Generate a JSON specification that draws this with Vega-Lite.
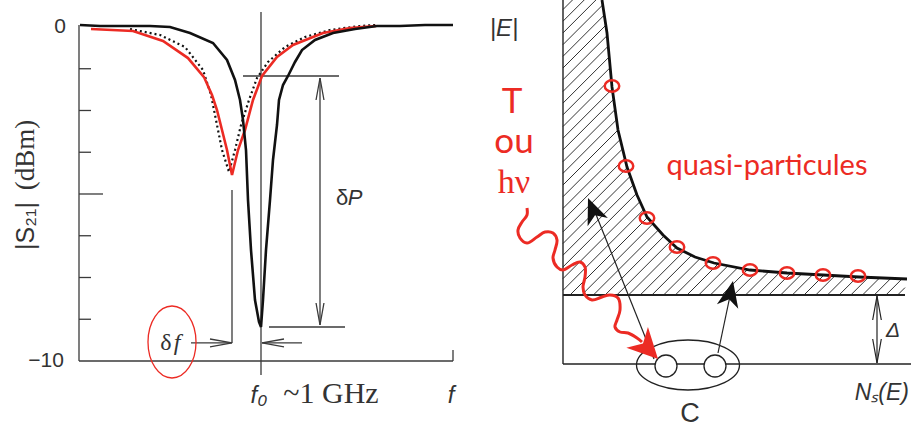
{
  "$schema": "https://vega.github.io/schema/vega-lite/v6.json",
  "padding": 0,
  "spacing": 0,
  "bounds": "flush",
  "background": "white",
  "config": {"view": {"stroke": null}},
  "resolve": {"scale": {"x": "independent", "y": "independent"}},
  "datasets": {
    "black": [
      {"f": 0.819, "dB": 0.06}, {"f": 0.839, "dB": 0.03}, {"f": 0.889, "dB": 0.03}, {"f": 0.909, "dB": 0},
      {"f": 0.929, "dB": -0.18}, {"f": 0.952, "dB": -0.479}, {"f": 0.966, "dB": -0.988}, {"f": 0.974, "dB": -1.587},
      {"f": 0.979, "dB": -2.186}, {"f": 0.982, "dB": -2.784}, {"f": 0.985, "dB": -3.683}, {"f": 0.987, "dB": -5.18},
      {"f": 0.99, "dB": -6.677}, {"f": 0.994, "dB": -8.174}, {"f": 0.998, "dB": -8.832}, {"f": 1.0, "dB": -8.982},
      {"f": 1.002, "dB": -8.174}, {"f": 1.005, "dB": -6.677}, {"f": 1.009, "dB": -5.18}, {"f": 1.012, "dB": -3.982},
      {"f": 1.016, "dB": -2.934}, {"f": 1.018, "dB": -2.186}, {"f": 1.022, "dB": -1.737}, {"f": 1.027, "dB": -1.467},
      {"f": 1.034, "dB": -1.048}, {"f": 1.041, "dB": -0.689}, {"f": 1.054, "dB": -0.389}, {"f": 1.072, "dB": -0.18},
      {"f": 1.094, "dB": -0.06}, {"f": 1.116, "dB": 0.03}, {"f": 1.139, "dB": 0.03}, {"f": 1.164, "dB": 0.06},
      {"f": 1.192, "dB": 0.06}
    ],
    "red": [
      {"f": 0.83, "dB": -0.06}, {"f": 0.872, "dB": -0.12}, {"f": 0.902, "dB": -0.42}, {"f": 0.927, "dB": -0.93},
      {"f": 0.943, "dB": -1.5}, {"f": 0.951, "dB": -2.036}, {"f": 0.956, "dB": -2.485}, {"f": 0.961, "dB": -3.084},
      {"f": 0.966, "dB": -3.683}, {"f": 0.971, "dB": -4.431}, {"f": 0.977, "dB": -3.683}, {"f": 0.984, "dB": -3.084},
      {"f": 0.992, "dB": -2.186}, {"f": 1.001, "dB": -1.467}, {"f": 1.016, "dB": -0.898}, {"f": 1.032, "dB": -0.539},
      {"f": 1.062, "dB": -0.18}, {"f": 1.089, "dB": -0.03}, {"f": 1.115, "dB": 0.03}
    ],
    "dots": [
      {"f": 0.869, "dB": -0.06}, {"f": 0.899, "dB": -0.24}, {"f": 0.924, "dB": -0.599}, {"f": 0.942, "dB": -1.287},
      {"f": 0.95, "dB": -2.036}, {"f": 0.955, "dB": -2.784}, {"f": 0.961, "dB": -3.683}, {"f": 0.968, "dB": -4.341},
      {"f": 0.974, "dB": -3.683}, {"f": 0.98, "dB": -2.934}, {"f": 0.988, "dB": -2.186}, {"f": 0.996, "dB": -1.527},
      {"f": 1.007, "dB": -1.048}, {"f": 1.024, "dB": -0.599}, {"f": 1.044, "dB": -0.299}, {"f": 1.069, "dB": -0.09},
      {"f": 1.099, "dB": 0.03}, {"f": 1.115, "dB": 0.06}
    ],
    "segL": [
      {"f": 0.818, "dB": 0.06, "f2": 0.818, "dB2": -10},
      {"f": 0.818, "dB": -10, "f2": 1.192, "dB2": -10},
      {"f": 1.192, "dB": -10, "f2": 1.192, "dB2": -9.671},
      {"f": 1.0, "dB": 0.449, "f2": 1.0, "dB2": -10.419},
      {"f": 0.818, "dB": -1.25, "f2": 0.83, "dB2": -1.25},
      {"f": 0.818, "dB": -2.5, "f2": 0.83, "dB2": -2.5},
      {"f": 0.818, "dB": -3.75, "f2": 0.83, "dB2": -3.75},
      {"f": 0.818, "dB": -5, "f2": 0.842, "dB2": -5},
      {"f": 0.818, "dB": -6.25, "f2": 0.83, "dB2": -6.25},
      {"f": 0.818, "dB": -7.5, "f2": 0.83, "dB2": -7.5},
      {"f": 0.818, "dB": -8.75, "f2": 0.83, "dB2": -8.75},
      {"f": 0.982, "dB": -1.467, "f2": 1.078, "dB2": -1.467},
      {"f": 1.059, "dB": -1.527, "f2": 1.059, "dB2": -8.922},
      {"f": 1.008, "dB": -8.982, "f2": 1.084, "dB2": -8.982},
      {"f": 0.971, "dB": -4.88, "f2": 0.971, "dB2": -9.46},
      {"f": 0.93, "dB": -9.46, "f2": 0.971, "dB2": -9.46},
      {"f": 1.001, "dB": -9.46, "f2": 1.041, "dB2": -9.46}
    ],
    "chevL": [
      {"f": 1.059, "dB": -1.527, "a": 0},
      {"f": 1.059, "dB": -8.922, "a": 180},
      {"f": 0.971, "dB": -9.46, "a": 90},
      {"f": 1.001, "dB": -9.46, "a": 270}
    ],
    "hatch": [
      {"N": 0, "E": 35.45, "N2": 0.95, "E2": 36.4}, {"N": 0, "E": 34.28, "N2": 2.12, "E2": 36.4},
      {"N": 0, "E": 33.11, "N2": 3.29, "E2": 36.4}, {"N": 0, "E": 31.94, "N2": 4.46, "E2": 36.4},
      {"N": 0, "E": 30.77, "N2": 5.63, "E2": 36.4}, {"N": 0, "E": 29.6, "N2": 6.8, "E2": 36.4},
      {"N": 0, "E": 28.43, "N2": 7.97, "E2": 36.4}, {"N": 0, "E": 27.26, "N2": 9.14, "E2": 36.4},
      {"N": 0, "E": 26.09, "N2": 10.31, "E2": 36.4}, {"N": 0, "E": 24.92, "N2": 11.48, "E2": 36.4},
      {"N": 0, "E": 23.75, "N2": 12.65, "E2": 36.4}, {"N": 0, "E": 22.58, "N2": 13.82, "E2": 36.4},
      {"N": 0, "E": 21.41, "N2": 14.99, "E2": 36.4}, {"N": 0, "E": 20.24, "N2": 16.16, "E2": 36.4},
      {"N": 0, "E": 19.07, "N2": 17.33, "E2": 36.4}, {"N": 0, "E": 17.9, "N2": 18.5, "E2": 36.4},
      {"N": 0, "E": 16.73, "N2": 19.67, "E2": 36.4}, {"N": 0, "E": 15.56, "N2": 20.84, "E2": 36.4},
      {"N": 0, "E": 14.39, "N2": 22.01, "E2": 36.4}, {"N": 0, "E": 13.22, "N2": 23.18, "E2": 36.4},
      {"N": 0, "E": 12.05, "N2": 24.35, "E2": 36.4}, {"N": 0, "E": 10.88, "N2": 25.52, "E2": 36.4},
      {"N": 0, "E": 9.71, "N2": 26.69, "E2": 36.4}, {"N": 0, "E": 8.54, "N2": 27.86, "E2": 36.4},
      {"N": 0, "E": 7.37, "N2": 29.03, "E2": 36.4}, {"N": 0.7, "E": 6.9, "N2": 30.2, "E2": 36.4},
      {"N": 1.87, "E": 6.9, "N2": 31.37, "E2": 36.4}, {"N": 3.04, "E": 6.9, "N2": 32.54, "E2": 36.4},
      {"N": 4.21, "E": 6.9, "N2": 33.71, "E2": 36.4}, {"N": 5.38, "E": 6.9, "N2": 34.2, "E2": 35.72},
      {"N": 6.55, "E": 6.9, "N2": 34.2, "E2": 34.55}, {"N": 7.72, "E": 6.9, "N2": 34.2, "E2": 33.38},
      {"N": 8.89, "E": 6.9, "N2": 34.2, "E2": 32.21}, {"N": 10.06, "E": 6.9, "N2": 34.2, "E2": 31.04},
      {"N": 11.23, "E": 6.9, "N2": 34.2, "E2": 29.87}, {"N": 12.4, "E": 6.9, "N2": 34.2, "E2": 28.7},
      {"N": 13.57, "E": 6.9, "N2": 34.2, "E2": 27.53}, {"N": 14.74, "E": 6.9, "N2": 34.2, "E2": 26.36},
      {"N": 15.91, "E": 6.9, "N2": 34.2, "E2": 25.19}, {"N": 17.08, "E": 6.9, "N2": 34.2, "E2": 24.02},
      {"N": 18.25, "E": 6.9, "N2": 34.2, "E2": 22.85}, {"N": 19.42, "E": 6.9, "N2": 34.2, "E2": 21.68},
      {"N": 20.59, "E": 6.9, "N2": 34.2, "E2": 20.51}, {"N": 21.76, "E": 6.9, "N2": 34.2, "E2": 19.34},
      {"N": 22.93, "E": 6.9, "N2": 34.2, "E2": 18.17}, {"N": 24.1, "E": 6.9, "N2": 34.2, "E2": 17.0},
      {"N": 25.27, "E": 6.9, "N2": 34.2, "E2": 15.83}, {"N": 26.44, "E": 6.9, "N2": 34.2, "E2": 14.66},
      {"N": 27.61, "E": 6.9, "N2": 34.2, "E2": 13.49}, {"N": 28.78, "E": 6.9, "N2": 34.2, "E2": 12.32},
      {"N": 29.95, "E": 6.9, "N2": 34.2, "E2": 11.15}, {"N": 31.12, "E": 6.9, "N2": 34.2, "E2": 9.98},
      {"N": 32.29, "E": 6.9, "N2": 34.2, "E2": 8.81}, {"N": 33.46, "E": 6.9, "N2": 34.2, "E2": 7.64}
    ],
    "dos": [
      {"N": 3.9, "E": 36.4}, {"N": 4.4, "E": 33.1}, {"N": 4.9, "E": 27.7}, {"N": 5.5, "E": 23.4},
      {"N": 6.4, "E": 19.7}, {"N": 7.4, "E": 16.9}, {"N": 8.4, "E": 14.7}, {"N": 10.0, "E": 12.9},
      {"N": 11.4, "E": 11.6}, {"N": 13.2, "E": 10.7}, {"N": 15.1, "E": 10.1}, {"N": 18.7, "E": 9.4},
      {"N": 22.4, "E": 9.1}, {"N": 26.0, "E": 8.9}, {"N": 29.6, "E": 8.7}, {"N": 34.4, "E": 8.5}
    ],
    "qp": [
      {"N": 4.9, "E": 27.8}, {"N": 6.3, "E": 19.8}, {"N": 8.4, "E": 14.6}, {"N": 11.4, "E": 11.7},
      {"N": 15.0, "E": 10.1}, {"N": 18.7, "E": 9.4}, {"N": 22.4, "E": 9.1}, {"N": 26.0, "E": 8.9},
      {"N": 29.5, "E": 8.8}
    ],
    "segR": [
      {"N": 0, "E": 36.4, "N2": 0, "E2": 0, "w": 1.4},
      {"N": 0, "E": 0, "N2": 34.8, "E2": 0, "w": 1.4},
      {"N": 0, "E": 6.9, "N2": 34.2, "E2": 6.9, "w": 2},
      {"N": 31.4, "E": 6.8, "N2": 31.4, "E2": 0.1, "w": 1.2},
      {"N": 9.1, "E": 0.5, "N2": 3.2, "E2": 15.2, "w": 1.2},
      {"N": 15.5, "E": 1.1, "N2": 16.7, "E2": 6.8, "w": 1.2}
    ],
    "chevR": [
      {"N": 31.4, "E": 6.8, "a": 0},
      {"N": 31.4, "E": 0.1, "a": 180}
    ],
    "heads": [
      {"N": 2.5, "E": 16.6, "a": -22},
      {"N": 17.0, "E": 8.3, "a": 12}
    ],
    "wave": [
      {"i": 1, "N": -3.6, "E": 15.6}, {"i": 2, "N": -3.6, "E": 14.9}, {"i": 3, "N": -4.1, "E": 14.2},
      {"i": 4, "N": -4.5, "E": 13.4}, {"i": 5, "N": -4.3, "E": 12.6}, {"i": 6, "N": -3.6, "E": 12.1},
      {"i": 7, "N": -2.6, "E": 12.7}, {"i": 8, "N": -1.8, "E": 13.2}, {"i": 9, "N": -1.0, "E": 13.1},
      {"i": 10, "N": -0.6, "E": 12.4}, {"i": 11, "N": -0.8, "E": 11.4}, {"i": 12, "N": -1.0, "E": 10.6},
      {"i": 13, "N": -0.6, "E": 9.7}, {"i": 14, "N": 0.0, "E": 9.4}, {"i": 15, "N": 0.9, "E": 9.9},
      {"i": 16, "N": 1.7, "E": 10.2}, {"i": 17, "N": 2.2, "E": 9.7}, {"i": 18, "N": 2.2, "E": 8.7},
      {"i": 19, "N": 2.0, "E": 7.7}, {"i": 20, "N": 2.2, "E": 6.9}, {"i": 21, "N": 2.9, "E": 6.4},
      {"i": 22, "N": 3.9, "E": 6.7}, {"i": 23, "N": 4.7, "E": 6.9}, {"i": 24, "N": 5.5, "E": 6.6},
      {"i": 25, "N": 5.7, "E": 5.4}, {"i": 26, "N": 5.4, "E": 4.4}, {"i": 27, "N": 5.2, "E": 3.7},
      {"i": 28, "N": 5.7, "E": 3.2}, {"i": 29, "N": 6.5, "E": 3.1}, {"i": 30, "N": 7.4, "E": 2.6},
      {"i": 31, "N": 7.9, "E": 2.2}
    ],
    "pair": [{"N": 10.3, "E": -0.2}, {"N": 15.2, "E": -0.2}],
    "pairEllipse": [{"N": 12.5, "E": -0.1}],
    "redHead": [{"N": 9.5, "E": 0.5, "a": 136}]
  },
  "hconcat": [
    {
      "width": 455,
      "height": 427,
      "encoding": {
        "x": {"field": "f", "type": "quantitative", "scale": {"domain": [0.739, 1.194], "nice": false, "zero": false}, "axis": null},
        "y": {"field": "dB", "type": "quantitative", "scale": {"domain": [-11.976, 0.808], "nice": false, "zero": false}, "axis": null}
      },
      "layer": [
        {"data": {"name": "segL"}, "mark": {"type": "rule", "color": "#3a3a3a", "strokeWidth": 1.3, "clip": true},
         "encoding": {"x2": {"field": "f2"}, "y2": {"field": "dB2"}}},
        {"data": {"name": "dots"}, "mark": {"type": "line", "color": "#111", "strokeWidth": 2.2, "strokeDash": [2, 3], "clip": true}},
        {"data": {"name": "red"}, "mark": {"type": "line", "color": "#ec2b24", "strokeWidth": 2.6, "clip": true}},
        {"data": {"name": "black"}, "mark": {"type": "line", "color": "#111", "strokeWidth": 2.6, "clip": true}},
        {"data": {"name": "chevL"}, "mark": {"type": "point", "shape": "M-0.18,1 L0,0 L0.18,1", "size": 1936, "filled": false, "stroke": "#3a3a3a", "strokeWidth": 1.3, "opacity": 1},
         "encoding": {"angle": {"field": "a", "type": "quantitative", "scale": null}}},
        {"data": {"values": [{"f": 0.911, "dB": -9.431}]}, "mark": {"type": "point", "shape": "M-0.667,0 C-0.667,-0.552 -0.368,-1 0,-1 C0.368,-1 0.667,-0.552 0.667,0 C0.667,0.552 0.368,1 0,1 C-0.368,1 -0.667,0.552 -0.667,0 Z", "size": 5184, "filled": false, "stroke": "#ec2b24", "strokeWidth": 1.3, "opacity": 1}},
        {"data": {"values": [{"f": 0.799, "dB": 0, "t": "0"}, {"f": 0.785, "dB": -10, "t": "−10"}]},
         "mark": {"type": "text", "font": "Liberation Sans", "fontSize": 21, "color": "#333", "align": "center", "baseline": "middle"},
         "encoding": {"text": {"field": "t"}}},
        {"data": {"values": [{"f": 0.765, "dB": -3.832, "t": "(dBm)"}]},
         "mark": {"type": "text", "font": "Liberation Serif", "fontSize": 27, "color": "#333", "align": "center", "baseline": "middle", "angle": 270},
         "encoding": {"text": {"field": "t"}}},
        {"data": {"values": [{"f": 0.765, "dB": -5.958, "t": "|S₂₁|"}]},
         "mark": {"type": "text", "font": "Liberation Sans", "fontSize": 25, "color": "#333", "align": "center", "baseline": "middle", "angle": 270},
         "encoding": {"text": {"field": "t"}}},
        {"data": {"values": [{"f": 1.081, "dB": -5.12, "t": "δ"}]},
         "mark": {"type": "text", "font": "Liberation Sans", "fontSize": 22, "color": "#333", "align": "center", "baseline": "middle"},
         "encoding": {"text": {"field": "t"}}},
        {"data": {"values": [{"f": 1.094, "dB": -5.12, "t": "P"}]},
         "mark": {"type": "text", "font": "Liberation Sans", "fontSize": 22, "fontStyle": "italic", "color": "#333", "align": "center", "baseline": "middle"},
         "encoding": {"text": {"field": "t"}}},
        {"data": {"values": [{"f": 0.905, "dB": -9.46, "t": "δ"}]},
         "mark": {"type": "text", "font": "Liberation Serif", "fontSize": 24, "color": "#333", "align": "center", "baseline": "middle"},
         "encoding": {"text": {"field": "t"}}},
        {"data": {"values": [{"f": 0.916, "dB": -9.46, "t": "f"}]},
         "mark": {"type": "text", "font": "Liberation Serif", "fontSize": 24, "fontStyle": "italic", "color": "#333", "align": "center", "baseline": "middle"},
         "encoding": {"text": {"field": "t"}}},
        {"data": {"values": [{"f": 0.998, "dB": -11.257, "t": "f₀"}, {"f": 1.19, "dB": -11.257, "t": "f"}]},
         "mark": {"type": "text", "font": "Liberation Sans", "fontSize": 24, "fontStyle": "italic", "color": "#333", "align": "center", "baseline": "alphabetic"},
         "encoding": {"text": {"field": "t"}}},
        {"data": {"values": [{"f": 1.07, "dB": -11.257, "t": "~1 GHz"}]},
         "mark": {"type": "text", "font": "Liberation Serif", "fontSize": 30, "color": "#333", "align": "center", "baseline": "alphabetic"},
         "encoding": {"text": {"field": "t"}}}
      ]
    },
    {
      "width": 456,
      "height": 427,
      "encoding": {
        "x": {"field": "N", "type": "quantitative", "scale": {"domain": [-10.8, 34.8], "nice": false, "zero": false}, "axis": null},
        "y": {"field": "E", "type": "quantitative", "scale": {"domain": [-6.3, 36.4], "nice": false, "zero": false}, "axis": null}
      },
      "layer": [
        {"data": {"name": "hatch"}, "mark": {"type": "rule", "color": "#333", "strokeWidth": 1, "clip": true},
         "encoding": {"x2": {"field": "N2"}, "y2": {"field": "E2"}}},
        {"data": {"name": "dos"}, "mark": {"type": "area", "color": "white", "orient": "vertical", "opacity": 1, "clip": true},
         "encoding": {"y2": {"datum": 36.4}}},
        {"data": {"name": "segR"}, "mark": {"type": "rule", "color": "#222", "clip": true},
         "encoding": {"x2": {"field": "N2"}, "y2": {"field": "E2"}, "strokeWidth": {"field": "w", "type": "quantitative", "scale": null}}},
        {"data": {"name": "dos"}, "mark": {"type": "line", "color": "#111", "strokeWidth": 2.8, "clip": true}},
        {"data": {"name": "qp"}, "mark": {"type": "point", "shape": "M-1,0 C-1,-0.442 -0.552,-0.8 0,-0.8 C0.552,-0.8 1,-0.442 1,0 C1,0.442 0.552,0.8 0,0.8 C-0.552,0.8 -1,0.442 -1,0 Z", "size": 210, "filled": false, "stroke": "#ec2b24", "strokeWidth": 2.5, "opacity": 1}},
        {"data": {"name": "chevR"}, "mark": {"type": "point", "shape": "M-0.18,1 L0,0 L0.18,1", "size": 2304, "filled": false, "stroke": "#222", "strokeWidth": 1.2, "opacity": 1},
         "encoding": {"angle": {"field": "a", "type": "quantitative", "scale": null}}},
        {"data": {"name": "heads"}, "mark": {"type": "point", "shape": "M0,0 L0.42,1 L0,0.72 L-0.42,1 Z", "size": 2704, "filled": true, "color": "#111", "opacity": 1},
         "encoding": {"angle": {"field": "a", "type": "quantitative", "scale": null}}},
        {"data": {"name": "pairEllipse"}, "mark": {"type": "point", "shape": "M-1,0 C-1,-0.268 -0.552,-0.485 0,-0.485 C0.552,-0.485 1,-0.268 1,0 C1,0.268 0.552,0.485 0,0.485 C-0.552,0.485 -1,0.268 -1,0 Z", "size": 10609, "filled": false, "stroke": "#222", "strokeWidth": 1.3, "opacity": 1}},
        {"data": {"name": "pair"}, "mark": {"type": "point", "shape": "circle", "size": 484, "filled": true, "fill": "white", "stroke": "#222", "strokeWidth": 1.3, "opacity": 1}},
        {"data": {"name": "wave"}, "mark": {"type": "line", "color": "#ec2b24", "strokeWidth": 3, "interpolate": "catmull-rom", "clip": true},
         "encoding": {"order": {"field": "i", "type": "quantitative"}}},
        {"data": {"name": "redHead"}, "mark": {"type": "point", "shape": "M0,0 L0.5,1 L0,0.72 L-0.5,1 Z", "size": 3600, "filled": true, "color": "#ec2b24", "opacity": 1},
         "encoding": {"angle": {"field": "a", "type": "quantitative", "scale": null}}},
        {"data": {"values": [{"N": -5.9, "E": 33.5, "t": "|E|"}]},
         "mark": {"type": "text", "font": "Liberation Sans", "fontSize": 24, "fontStyle": "italic", "color": "#333", "align": "center", "baseline": "middle"},
         "encoding": {"text": {"field": "t"}}},
        {"data": {"values": [{"N": -5.1, "E": 25.1, "t": "T"}, {"N": -4.9, "E": 21.1, "t": "ou"}]},
         "mark": {"type": "text", "font": "Lato", "fontSize": 35, "color": "#ec2b24", "align": "center", "baseline": "alphabetic"},
         "encoding": {"text": {"field": "t"}}},
        {"data": {"values": [{"N": -4.9, "E": 17.1, "t": "hν"}]},
         "mark": {"type": "text", "font": "Liberation Serif", "fontSize": 34, "color": "#ec2b24", "align": "center", "baseline": "alphabetic"},
         "encoding": {"text": {"field": "t"}}},
        {"data": {"values": [{"N": 20.4, "E": 18.9, "t": "quasi-particules"}]},
         "mark": {"type": "text", "font": "Lato", "fontSize": 29, "color": "#ec2b24", "align": "center", "baseline": "alphabetic"},
         "encoding": {"text": {"field": "t"}}},
        {"data": {"values": [{"N": 12.7, "E": -5.8, "t": "C"}]},
         "mark": {"type": "text", "font": "Liberation Sans", "fontSize": 27, "color": "#333", "align": "center", "baseline": "alphabetic"},
         "encoding": {"text": {"field": "t"}}},
        {"data": {"values": [{"N": 34.6, "E": -3.6, "t": "Nₛ(E)"}]},
         "mark": {"type": "text", "font": "Liberation Sans", "fontSize": 23, "fontStyle": "italic", "color": "#333", "align": "right", "baseline": "alphabetic"},
         "encoding": {"text": {"field": "t"}}},
        {"data": {"values": [{"N": 32.3, "E": 2.7, "t": "Δ"}]},
         "mark": {"type": "text", "font": "Liberation Sans", "fontSize": 21, "fontStyle": "italic", "color": "#333", "align": "left", "baseline": "alphabetic"},
         "encoding": {"text": {"field": "t"}}}
      ]
    }
  ]
}
